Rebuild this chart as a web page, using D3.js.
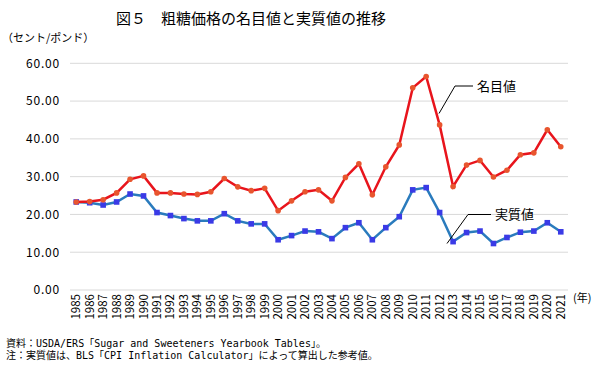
<!DOCTYPE html>
<html><head><meta charset="utf-8">
<script src="https://cdn.jsdelivr.net/npm/d3@7"></script>
<style>
body{margin:0;background:#fff;}
text{font-family:"Noto Sans CJK JP","Noto Sans",sans-serif;fill:#000;}
</style></head>
<body><svg id="c" width="598" height="366"></svg>
<script>
const years = d3.range(1985, 2022).map(String);
const nominal = [23.3,23.4,23.9,25.7,29.3,30.2,25.7,25.7,25.4,25.3,26.0,29.5,27.3,26.3,26.9,21.0,23.6,26.0,26.5,23.6,29.8,33.4,25.2,32.6,38.4,53.5,56.5,43.7,27.4,33.1,34.3,29.9,31.7,35.8,36.3,42.4,37.9];
const real = [23.3,23.1,22.5,23.3,25.4,24.9,20.5,19.7,18.9,18.3,18.3,20.2,18.3,17.5,17.5,13.3,14.4,15.6,15.4,13.6,16.5,17.8,13.3,16.5,19.4,26.5,27.1,20.5,12.8,15.2,15.6,12.3,13.9,15.3,15.6,17.8,15.4];
const yTicks = [0,10,20,30,40,50,60];
const title = "図５　粗糖価格の名目値と実質値の推移";
const unitLabel = "（セント/ポンド）";
const yearLabel = "(年)";
const notes = ["資料：USDA/ERS「Sugar and Sweeteners Yearbook Tables」。","注：実質値は、BLS「CPI Inflation Calculator」によって算出した参考値。"];

const svg = d3.select("#c");
const x = d3.scaleBand().domain(years).range([69.5, 567.5]);
const y = d3.scaleLinear().domain([0,60]).range([290, 63.3]);
const cx = d => x(d) + x.bandwidth()/2;

svg.append("text").attr("x",251).attr("y",23.5).attr("text-anchor","middle").attr("font-size",15).text(title);
svg.append("text").attr("x",2).attr("y",42).attr("font-size",11).text(unitLabel);

// grid
svg.append("g").selectAll("line").data(yTicks).join("line")
  .attr("x1",70).attr("x2",568).attr("y1",d=>y(d)).attr("y2",d=>y(d))
  .attr("stroke","#d9d9d9").attr("stroke-width",1);

// y axis labels
const yAxis = d3.axisLeft(y).tickValues(yTicks).tickFormat(d3.format(".2f")).tickSize(0).tickPadding(0);
const ga = svg.append("g").attr("transform","translate(60,0)").call(yAxis);
ga.select(".domain").remove();
ga.selectAll("text").attr("font-size",12).attr("letter-spacing","0.8px")
  .style("font-family","'Noto Sans CJK JP',sans-serif").attr("fill","#000");

// x axis labels
const xAxis = d3.axisBottom(x).tickSize(0).tickPadding(0);
const gx = svg.append("g").attr("transform","translate(0,292)").call(xAxis);
gx.select(".domain").remove();
gx.selectAll("text").attr("transform","rotate(-90)").attr("text-anchor","end")
  .attr("x",-2).attr("y",0).attr("dy","0.35em").attr("font-size",11.5)
  .style("font-family","'Noto Sans CJK JP',sans-serif").attr("fill","#000");

svg.append("text").attr("x",573).attr("y",302).attr("font-size",11).text(yearLabel);

// lines
const line = d3.line().x((d,i)=>cx(years[i])).y(d=>y(d));
svg.append("path").datum(real).attr("d",line).attr("fill","none").attr("stroke","#2a7bbd").attr("stroke-width",2.5);
svg.append("g").selectAll("rect").data(real).join("rect")
  .attr("x",(d,i)=>cx(years[i])-2.8).attr("y",d=>y(d)-2.8).attr("width",5.6).attr("height",5.6)
  .attr("fill","#3a3ae6");
svg.append("path").datum(nominal).attr("d",line).attr("fill","none").attr("stroke","#e8141c").attr("stroke-width",2.5);
svg.append("g").selectAll("circle").data(nominal).join("circle")
  .attr("cx",(d,i)=>cx(years[i])).attr("cy",d=>y(d)).attr("r",2.8)
  .attr("fill","#e8552e");

// annotations
svg.append("polyline").attr("points","439,113.5 455,86 473,86").attr("fill","none").attr("stroke","#000").attr("stroke-width",1);
svg.append("text").attr("x",477).attr("y",90.5).attr("font-size",13).text("名目値");
svg.append("polyline").attr("points","447,243.5 468,214.5 491,214.5").attr("fill","none").attr("stroke","#000").attr("stroke-width",1);
svg.append("text").attr("x",495).attr("y",219).attr("font-size",13).text("実質値");

// notes
const nf = "'DejaVu Sans Mono','Noto Sans CJK JP',monospace";
svg.append("text").attr("x",6).attr("y",346.5).attr("font-size",10).style("font-family",nf).text(notes[0]);
svg.append("text").attr("x",6).attr("y",358.5).attr("font-size",10).style("font-family",nf).text(notes[1]);
</script></body></html>
